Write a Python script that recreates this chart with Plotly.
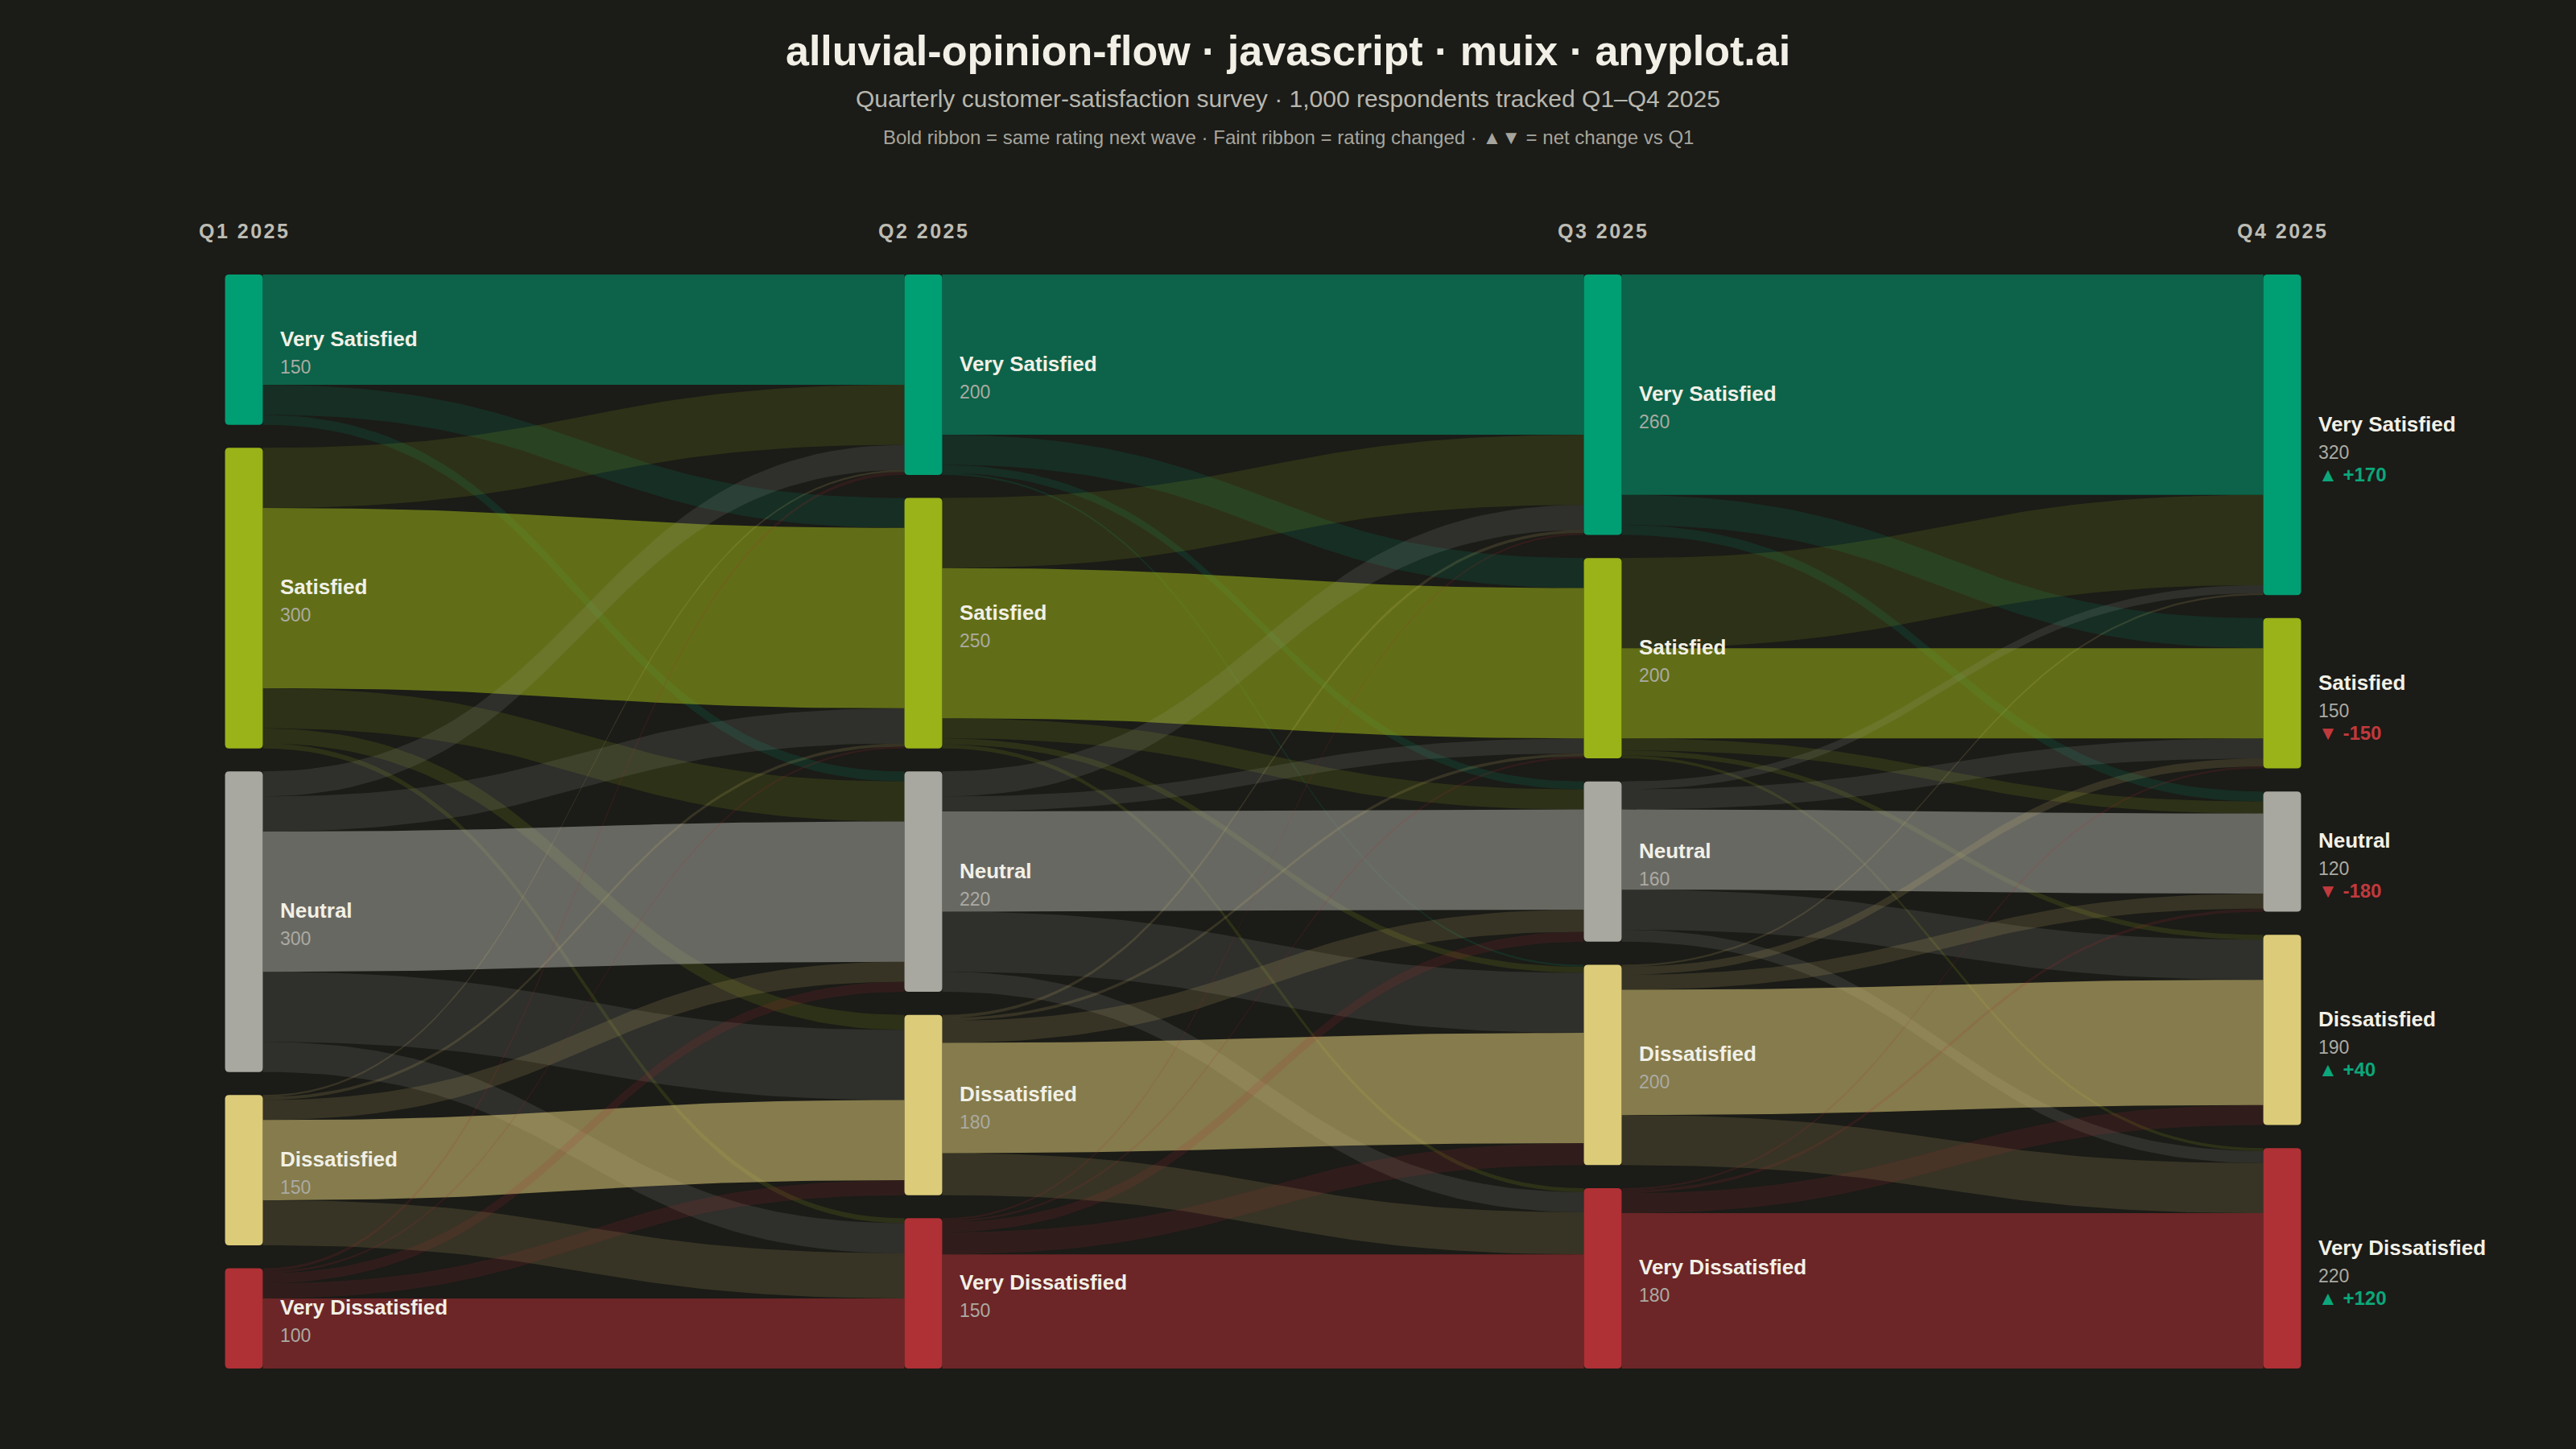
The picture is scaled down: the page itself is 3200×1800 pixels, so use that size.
import numpy as np
import plotly.graph_objects as go

# --- data -------------------------------------------------------------
waves = ["Q1 2025", "Q2 2025", "Q3 2025", "Q4 2025"]
ratings = ["Very Satisfied", "Satisfied", "Neutral", "Dissatisfied", "Very Dissatisfied"]
rating_colors = ["#009E73", "#9AB318", "#A8A8A0", "#DCCB79", "#AF3035"]

# rows = rating in earlier wave, columns = rating in next wave
q1_q2 = [[110, 30, 10, 0, 0],
         [60, 180, 40, 15, 5],
         [25, 35, 140, 70, 30],
         [2, 3, 20, 80, 45],
         [3, 2, 10, 15, 70]]
q2_q3 = [[160, 30, 8, 2, 0],
         [70, 150, 20, 6, 4],
         [25, 15, 100, 60, 20],
         [3, 3, 22, 110, 42],
         [2, 2, 10, 22, 114]]
q3_q4 = [[220, 30, 10, 0, 0],
         [90, 90, 12, 5, 3],
         [8, 20, 80, 40, 12],
         [2, 8, 15, 125, 50],
         [0, 2, 3, 20, 155]]
transitions = [np.array(q1_q2), np.array(q2_q3), np.array(q3_q4)]

# --- look ---------------------------------------------------------------
BG = "#1B1B17"
FONT = "Liberation Sans, Arial, sans-serif"
W, H = 3200, 1800
GAP = 23            # gap between stacked nodes, in respondents
NODE_W = 0.0556     # node width, in wave units
BOLD_A, FAINT_A = 0.55, 0.15
TOP, BOTTOM = 341, 1700   # plot area in px


def rgba(hex_color, a):
    h = hex_color.lstrip("#")
    r, g, b = int(h[0:2], 16), int(h[2:4], 16), int(h[4:6], 16)
    return f"rgba({r},{g},{b},{a})"


def paper_y(px):
    return (BOTTOM - px) / (BOTTOM - TOP)


totals = [transitions[0].sum(axis=1)] + [t.sum(axis=0) for t in transitions]
span = totals[0].sum() + GAP * (len(ratings) - 1)

node_top = []
for tot in totals:
    tops = np.concatenate([[0], np.cumsum(tot)[:-1]]) + GAP * np.arange(len(tot))
    node_top.append(tops)

fig = go.Figure()

# ribbons
t = np.linspace(0, 1, 60)
for k, flow in enumerate(transitions):
    x0 = k + NODE_W / 2
    x1 = k + 1 - NODE_W / 2
    xm = (x0 + x1) / 2
    bx = (1 - t) ** 3 * x0 + 3 * (1 - t) ** 2 * t * xm + 3 * (1 - t) * t ** 2 * xm + t ** 3 * x1
    out_off = node_top[k].astype(float).copy()
    in_off = node_top[k + 1].astype(float).copy()
    src_start = np.zeros_like(flow, dtype=float)
    tgt_start = np.zeros_like(flow, dtype=float)
    for i in range(len(ratings)):
        for j in range(len(ratings)):
            src_start[i, j] = out_off[i]
            out_off[i] += flow[i, j]
    for j in range(len(ratings)):
        for i in range(len(ratings)):
            tgt_start[i, j] = in_off[j]
            in_off[j] += flow[i, j]
    for i in range(len(ratings)):
        for j in range(len(ratings)):
            v = flow[i, j]
            if v == 0:
                continue
            ys, yt = src_start[i, j], tgt_start[i, j]
            s = 3 * (1 - t) * t ** 2 + t ** 3
            top_edge = ys + (yt - ys) * s
            bot_edge = top_edge + v
            xs = np.concatenate([bx, bx[::-1]])
            ys_all = np.concatenate([top_edge, bot_edge[::-1]])
            alpha = BOLD_A if i == j else FAINT_A
            fig.add_trace(go.Scatter(
                x=xs, y=ys_all, mode="lines", fill="toself",
                line=dict(width=0), fillcolor=rgba(rating_colors[i], alpha),
                hoveron="fills",
                text=f"{waves[k]} {ratings[i]} → {waves[k + 1]} {ratings[j]}: {v}",
                hoverinfo="text", showlegend=False,
            ))

# nodes
rx = 5 / 844
ry = 4
shapes = []
annotations = []
for k, tot in enumerate(totals):
    for i, v in enumerate(tot):
        xa, xb = k - NODE_W / 2, k + NODE_W / 2
        ya, yb = node_top[k][i], node_top[k][i] + v
        path = (f"M {xa + rx},{ya} L {xb - rx},{ya} Q {xb},{ya} {xb},{ya + ry} "
                f"L {xb},{yb - ry} Q {xb},{yb} {xb - rx},{yb} L {xa + rx},{yb} "
                f"Q {xa},{yb} {xa},{yb - ry} L {xa},{ya + ry} Q {xa},{ya} {xa + rx},{ya} Z")
        shapes.append(dict(type="path", path=path, xref="x", yref="y",
                           fillcolor=rating_colors[i], line=dict(width=0), layer="above"))
        yc = (ya + yb) / 2
        annotations.append(dict(
            x=xb, y=yc, xref="x", yref="y", xanchor="left", yanchor="middle",
            xshift=20, yshift=-3, showarrow=False, align="left",
            text=(f"<b>{ratings[i]}</b><br>"
                  f"<span style='color:#ABAAA2;font-size:23px'>{v}</span>"),
            font=dict(family=FONT, size=26, color="#F2F0E6"),
        ))
        if k == len(totals) - 1:
            d = int(v - totals[0][i])
            up = d >= 0
            annotations.append(dict(
                x=xb, y=yc, xref="x", yref="y", xanchor="left", yanchor="middle",
                xshift=20, yshift=-49, showarrow=False, align="left",
                text=f"<b>{'▲' if up else '▼'} {'+' if up else ''}{d}</b>",
                font=dict(family=FONT, size=24, color="#0BA77B" if up else "#C0393C"),
            ))

# wave headers
for k, name in enumerate(waves):
    annotations.append(dict(
        x=k, y=paper_y(287), xref="x", yref="paper", xanchor="center", yanchor="middle",
        showarrow=False, text=f"<b><span style='letter-spacing:2.5px'>{name}</span></b>",
        font=dict(family=FONT, size=25, color="#BDBCB3"),
    ))

# titles
annotations += [
    dict(x=0.5, y=paper_y(63), xref="paper", yref="paper", showarrow=False,
         xanchor="center", yanchor="middle",
         text="<b>alluvial-opinion-flow · javascript · muix · anyplot.ai</b>",
         font=dict(family=FONT, size=52, color="#F2F0E6")),
    dict(x=0.5, y=paper_y(122), xref="paper", yref="paper", showarrow=False,
         xanchor="center", yanchor="middle",
         text="Quarterly customer-satisfaction survey · 1,000 respondents tracked Q1–Q4 2025",
         font=dict(family=FONT, size=30, color="#B8B7AE")),
    dict(x=0.5, y=paper_y(171), xref="paper", yref="paper", showarrow=False,
         xanchor="center", yanchor="middle",
         text="Bold ribbon = same rating next wave · Faint ribbon = rating changed · ▲▼ = net change vs Q1",
         font=dict(family=FONT, size=24, color="#A6A59D")),
]

x_left = -303 / 844
x_right = (W - 303) / 844
fig.update_layout(
    width=W, height=H,
    paper_bgcolor=BG, plot_bgcolor=BG,
    margin=dict(l=0, r=0, t=TOP, b=H - BOTTOM),
    xaxis=dict(range=[x_left, x_right], visible=False, fixedrange=True),
    yaxis=dict(range=[span, 0], visible=False, fixedrange=True),
    shapes=shapes, annotations=annotations,
    showlegend=False,
    hoverlabel=dict(font=dict(family=FONT, size=20)),
)

fig.write_html(
    "out.html",
    config={"displayModeBar": False},
    post_script=f"document.body.style.margin='0';document.body.style.background='{BG}';",
)
